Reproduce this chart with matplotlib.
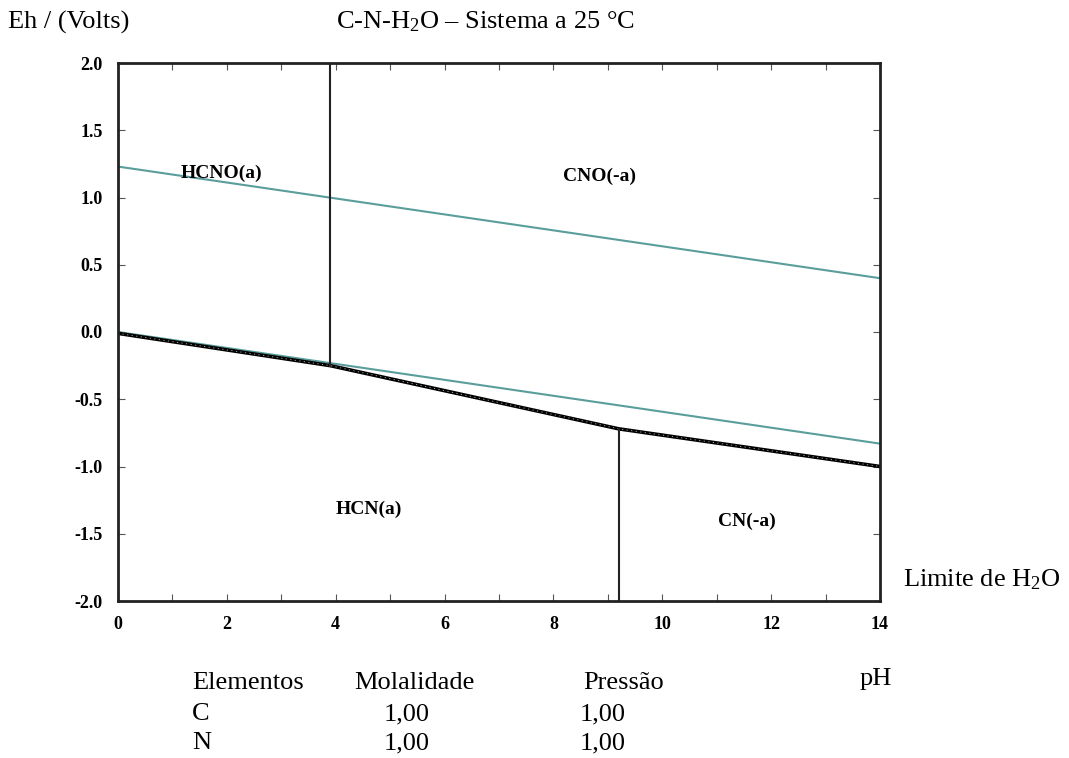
import matplotlib
matplotlib.use("Agg")
import matplotlib.pyplot as plt
from matplotlib.ticker import MultipleLocator, FormatStrFormatter

plt.rcParams['font.family'] = ['Liberation Serif', 'DejaVu Serif']
plt.rcParams['mathtext.fontset'] = 'custom'
plt.rcParams['mathtext.rm'] = 'Liberation Serif'
plt.rcParams['mathtext.it'] = 'Liberation Serif:italic'
plt.rcParams['mathtext.bf'] = 'Liberation Serif:bold'

# Data
water_ph = [0, 14]
water_upper_eh = [1.23, 0.40]
water_lower_eh = [0.0, -0.83]

redox_ph = [0, 3.9, 9.2, 14]
redox_eh = [-0.01, -0.25, -0.72, -1.0]

acid1_ph = [3.9, 3.9]
acid1_eh = [-0.25, 2.0]
acid2_ph = [9.2, 9.2]
acid2_eh = [-0.72, -2.0]

species = ["HCNO(a)", "CNO(-a)", "HCN(a)", "CN(-a)"]
species_ph = [1.9, 8.85, 4.6, 11.55]
species_eh = [1.18, 1.16, -1.32, -1.41]

x_ticks = [0, 2, 4, 6, 8, 10, 12, 14]
y_ticks = [-2.0, -1.5, -1.0, -0.5, 0.0, 0.5, 1.0, 1.5, 2.0]

table_header = ["Elementos", "Molalidade", "Pressão"]
table_elements = ["C", "N"]
table_molality = ["1,00", "1,00"]
table_pressure = ["1,00", "1,00"]

teal = "#5a9e9c"

fig = plt.figure(figsize=(10.69, 7.58), dpi=100)
ax = fig.add_axes([118/1069, 1-601/758, (880-118)/1069, (601-63)/758])

ax.plot(water_ph, water_upper_eh, color=teal, lw=1.5)
ax.plot(water_ph, water_lower_eh, color=teal, lw=1.5)
ax.plot(redox_ph, redox_eh, color="black", lw=2.6)
ax.plot(redox_ph, redox_eh, color="white", lw=0.6, ls=(0, (1.5, 4)), alpha=0.7)
ax.plot(acid1_ph, acid1_eh, color="#222222", lw=1.5)
ax.plot(acid2_ph, acid2_eh, color="#222222", lw=1.5)

for s, px, py in zip(species, species_ph, species_eh):
    ax.text(px, py, s, ha="center", va="center", fontsize=14, fontweight="bold")

ax.set_xlim(0, 14)
ax.set_ylim(-2.0, 2.0)
ax.set_xticks(x_ticks)
ax.xaxis.set_minor_locator(MultipleLocator(1))
ax.set_yticks(y_ticks)
ax.yaxis.set_major_formatter(FormatStrFormatter('%.1f'))
ax.tick_params(which="both", direction="in", top=True, right=True, length=5, width=0.8,
               color="#555555", labelsize=13, pad=11)
ax.tick_params(which="minor", length=5)
for lab in ax.get_xticklabels() + ax.get_yticklabels():
    lab.set_fontweight("bold")
for sp in ax.spines.values():
    sp.set_linewidth(2)
    sp.set_color("#222222")

fs = 19
fig.text(8/1069, 1-22/758, "Eh / (Volts)", fontsize=fs, ha="left", va="center")
fig.text(485/1069, 1-22/758, "C-N-H$_2$O – Sistema a 25 °C", fontsize=fs, ha="center", va="center")
fig.text(903/1069, 1-580/758, "Limite de H$_2$O", fontsize=fs, ha="left", va="center")
fig.text(860/1069, 1-679/758, "pH", fontsize=fs, ha="left", va="center")

hx = [192, 354, 583]
for t, x in zip(table_header, hx):
    fig.text(x/1069, 1-683/758, t, fontsize=fs, ha="left", va="center")
row_y = [714, 743]
for e, m, p, y in zip(table_elements, table_molality, table_pressure, row_y):
    fig.text(192/1069, 1-y/758, e, fontsize=fs, ha="left", va="center")
    fig.text(384/1069, 1-y/758, m, fontsize=fs, ha="left", va="center")
    fig.text(580/1069, 1-y/758, p, fontsize=fs, ha="left", va="center")

fig.savefig("out.png", dpi=100)
